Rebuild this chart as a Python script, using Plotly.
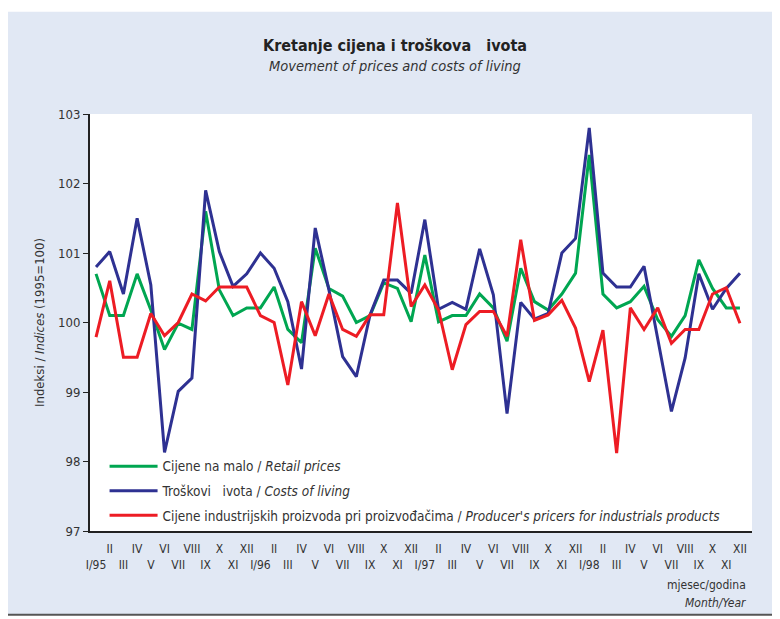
import plotly.graph_objects as go

months = ["I/95", "II", "III", "IV", "V", "VI", "VII", "VIII", "IX", "X", "XI", "XII",
          "I/96", "II", "III", "IV", "V", "VI", "VII", "VIII", "IX", "X", "XI", "XII",
          "I/97", "II", "III", "IV", "V", "VI", "VII", "VIII", "IX", "X", "XI", "XII",
          "I/98", "II", "III", "IV", "V", "VI", "VII", "VIII", "IX", "X", "XI", "XII"]

retail = [100.70, 100.10, 100.10, 100.70, 100.18, 99.61, 99.99, 99.90, 101.60, 100.47, 100.10, 100.21,
          100.21, 100.51, 99.90, 99.71, 101.07, 100.49, 100.38, 100.00, 100.10, 100.57, 100.49, 100.01,
          100.97, 100.01, 100.10, 100.10, 100.41, 100.21, 99.73, 100.78, 100.30, 100.18, 100.41, 100.71,
          102.41, 100.41, 100.21, 100.30, 100.52, 100.04, 99.80, 100.10, 100.90, 100.49, 100.21, 100.21]

living = [100.80, 101.02, 100.41, 101.50, 100.54, 98.13, 99.01, 99.20, 101.90, 101.02, 100.52, 100.70,
          101.00, 100.78, 100.30, 99.33, 101.36, 100.47, 99.51, 99.22, 100.11, 100.61, 100.61, 100.42,
          101.48, 100.19, 100.29, 100.19, 101.06, 100.40, 98.69, 100.29, 100.05, 100.13, 101.00, 101.21,
          102.80, 100.71, 100.51, 100.51, 100.81, 99.75, 98.72, 99.49, 100.70, 100.19, 100.49, 100.71]

producer = [99.79, 100.60, 99.50, 99.50, 100.13, 99.81, 100.00, 100.41, 100.31, 100.51, 100.51, 100.51,
            100.10, 100.00, 99.10, 100.30, 99.81, 100.41, 99.90, 99.80, 100.11, 100.11, 101.72, 100.23,
            100.54, 100.18, 99.32, 99.97, 100.16, 100.16, 99.80, 101.19, 100.03, 100.11, 100.32, 99.92,
            99.15, 99.89, 98.12, 100.21, 99.90, 100.21, 99.70, 99.90, 99.90, 100.41, 100.50, 99.99]

y_ticks = [97, 98, 99, 100, 101, 102, 103]

names = ["Cijene na malo / <i>Retail prices</i>",
         "Troškovi   ivota / <i>Costs of living</i>",
         "Cijene industrijskih proizvoda pri proizvođačima / <i>Producer's pricers for industrials products</i>"]
colors = ["#00a651", "#2e3192", "#ed1c24"]

x = list(range(len(months)))
# two-row tick labels: odd months on upper row, others on lower row
ticktext = [m if i % 2 == 1 else "\u00a0<br>" + m for i, m in enumerate(months)]

FONT = "Liberation Sans Narrow, DejaVu Sans Condensed, Arial Narrow, sans-serif"

fig = go.Figure()
for i, (vals, nm, col) in enumerate(zip([retail, living, producer], names, colors)):
    fig.add_trace(go.Scatter(x=x, y=vals, mode="lines", name=nm, legendgroup=str(i),
                             line=dict(color=col, width=3)))

fig.update_layout(
    width=780, height=619,
    margin=dict(l=82, r=36, t=106, b=96),
    paper_bgcolor="white",
    plot_bgcolor="white",
    font=dict(family=FONT, size=13, color="#333333"),
    showlegend=True,
    legend=dict(x=0.022, y=0.192, xanchor="left", yanchor="top",
                bgcolor="rgba(0,0,0,0)", font=dict(size=13.5, color="#333333"),
                itemwidth=48, traceorder="grouped", tracegroupgap=4),
    xaxis=dict(range=[-0.44, 47.88], tickmode="array", tickvals=x, ticktext=ticktext,
               showgrid=False, zeroline=False, showline=True, linecolor="#222222", linewidth=2,
               ticks="outside", ticklen=6, tickcolor="rgba(0,0,0,0)",
               tickfont=dict(size=12, color="#333333"), tickangle=0),
    yaxis=dict(range=[97, 103], tickmode="array", tickvals=y_ticks,
               showgrid=False, zeroline=False, showline=True, linecolor="#222222", linewidth=2,
               ticks="outside", ticklen=5, tickcolor="#222222", tickwidth=1,
               tickfont=dict(size=13, color="#333333")),
    shapes=[
        dict(type="rect", xref="paper", yref="paper", x0=-0.128, x1=1.035, y0=-0.201, y1=1.245,
             fillcolor="#e1e8f4", line=dict(width=0), layer="below"),
        dict(type="rect", xref="paper", yref="paper", x0=0, x1=1, y0=0, y1=1,
             fillcolor="white", line=dict(width=0), layer="below"),
        dict(type="line", xref="paper", yref="paper", x0=1.035, x1=1.035, y0=-0.201, y1=1.205,
             line=dict(color="#555555", width=2)),
        dict(type="line", xref="paper", yref="paper", x0=-0.128, x1=1.035, y0=-0.201, y1=-0.201,
             line=dict(color="#555555", width=2)),
    ],
    annotations=[
        dict(text="<b>Kretanje cijena i troškova   ivota</b>", xref="paper", yref="paper",
             x=0.461, y=1.165, xanchor="center", yanchor="middle", showarrow=False,
             font=dict(size=16, color="#222222")),
        dict(text="<i>Movement of prices and costs of living</i>", xref="paper", yref="paper",
             x=0.461, y=1.115, xanchor="center", yanchor="middle", showarrow=False,
             font=dict(size=14.5, color="#333333")),
        dict(text="Indeksi / <i>Indices</i> (1995=100)", xref="paper", yref="paper",
             x=-0.0755, y=0.499, xanchor="center", yanchor="middle", textangle=-90, showarrow=False,
             font=dict(size=13, color="#333333")),
        dict(text="mjesec/godina", xref="paper", yref="paper", x=0.994, y=-0.1295,
             xanchor="right", yanchor="middle", showarrow=False, font=dict(size=12, color="#333333")),
        dict(text="<i>Month/Year</i>", xref="paper", yref="paper", x=0.994, y=-0.1727,
             xanchor="right", yanchor="middle", showarrow=False, font=dict(size=12, color="#333333")),
    ],
)

fig.write_html("out.html")
